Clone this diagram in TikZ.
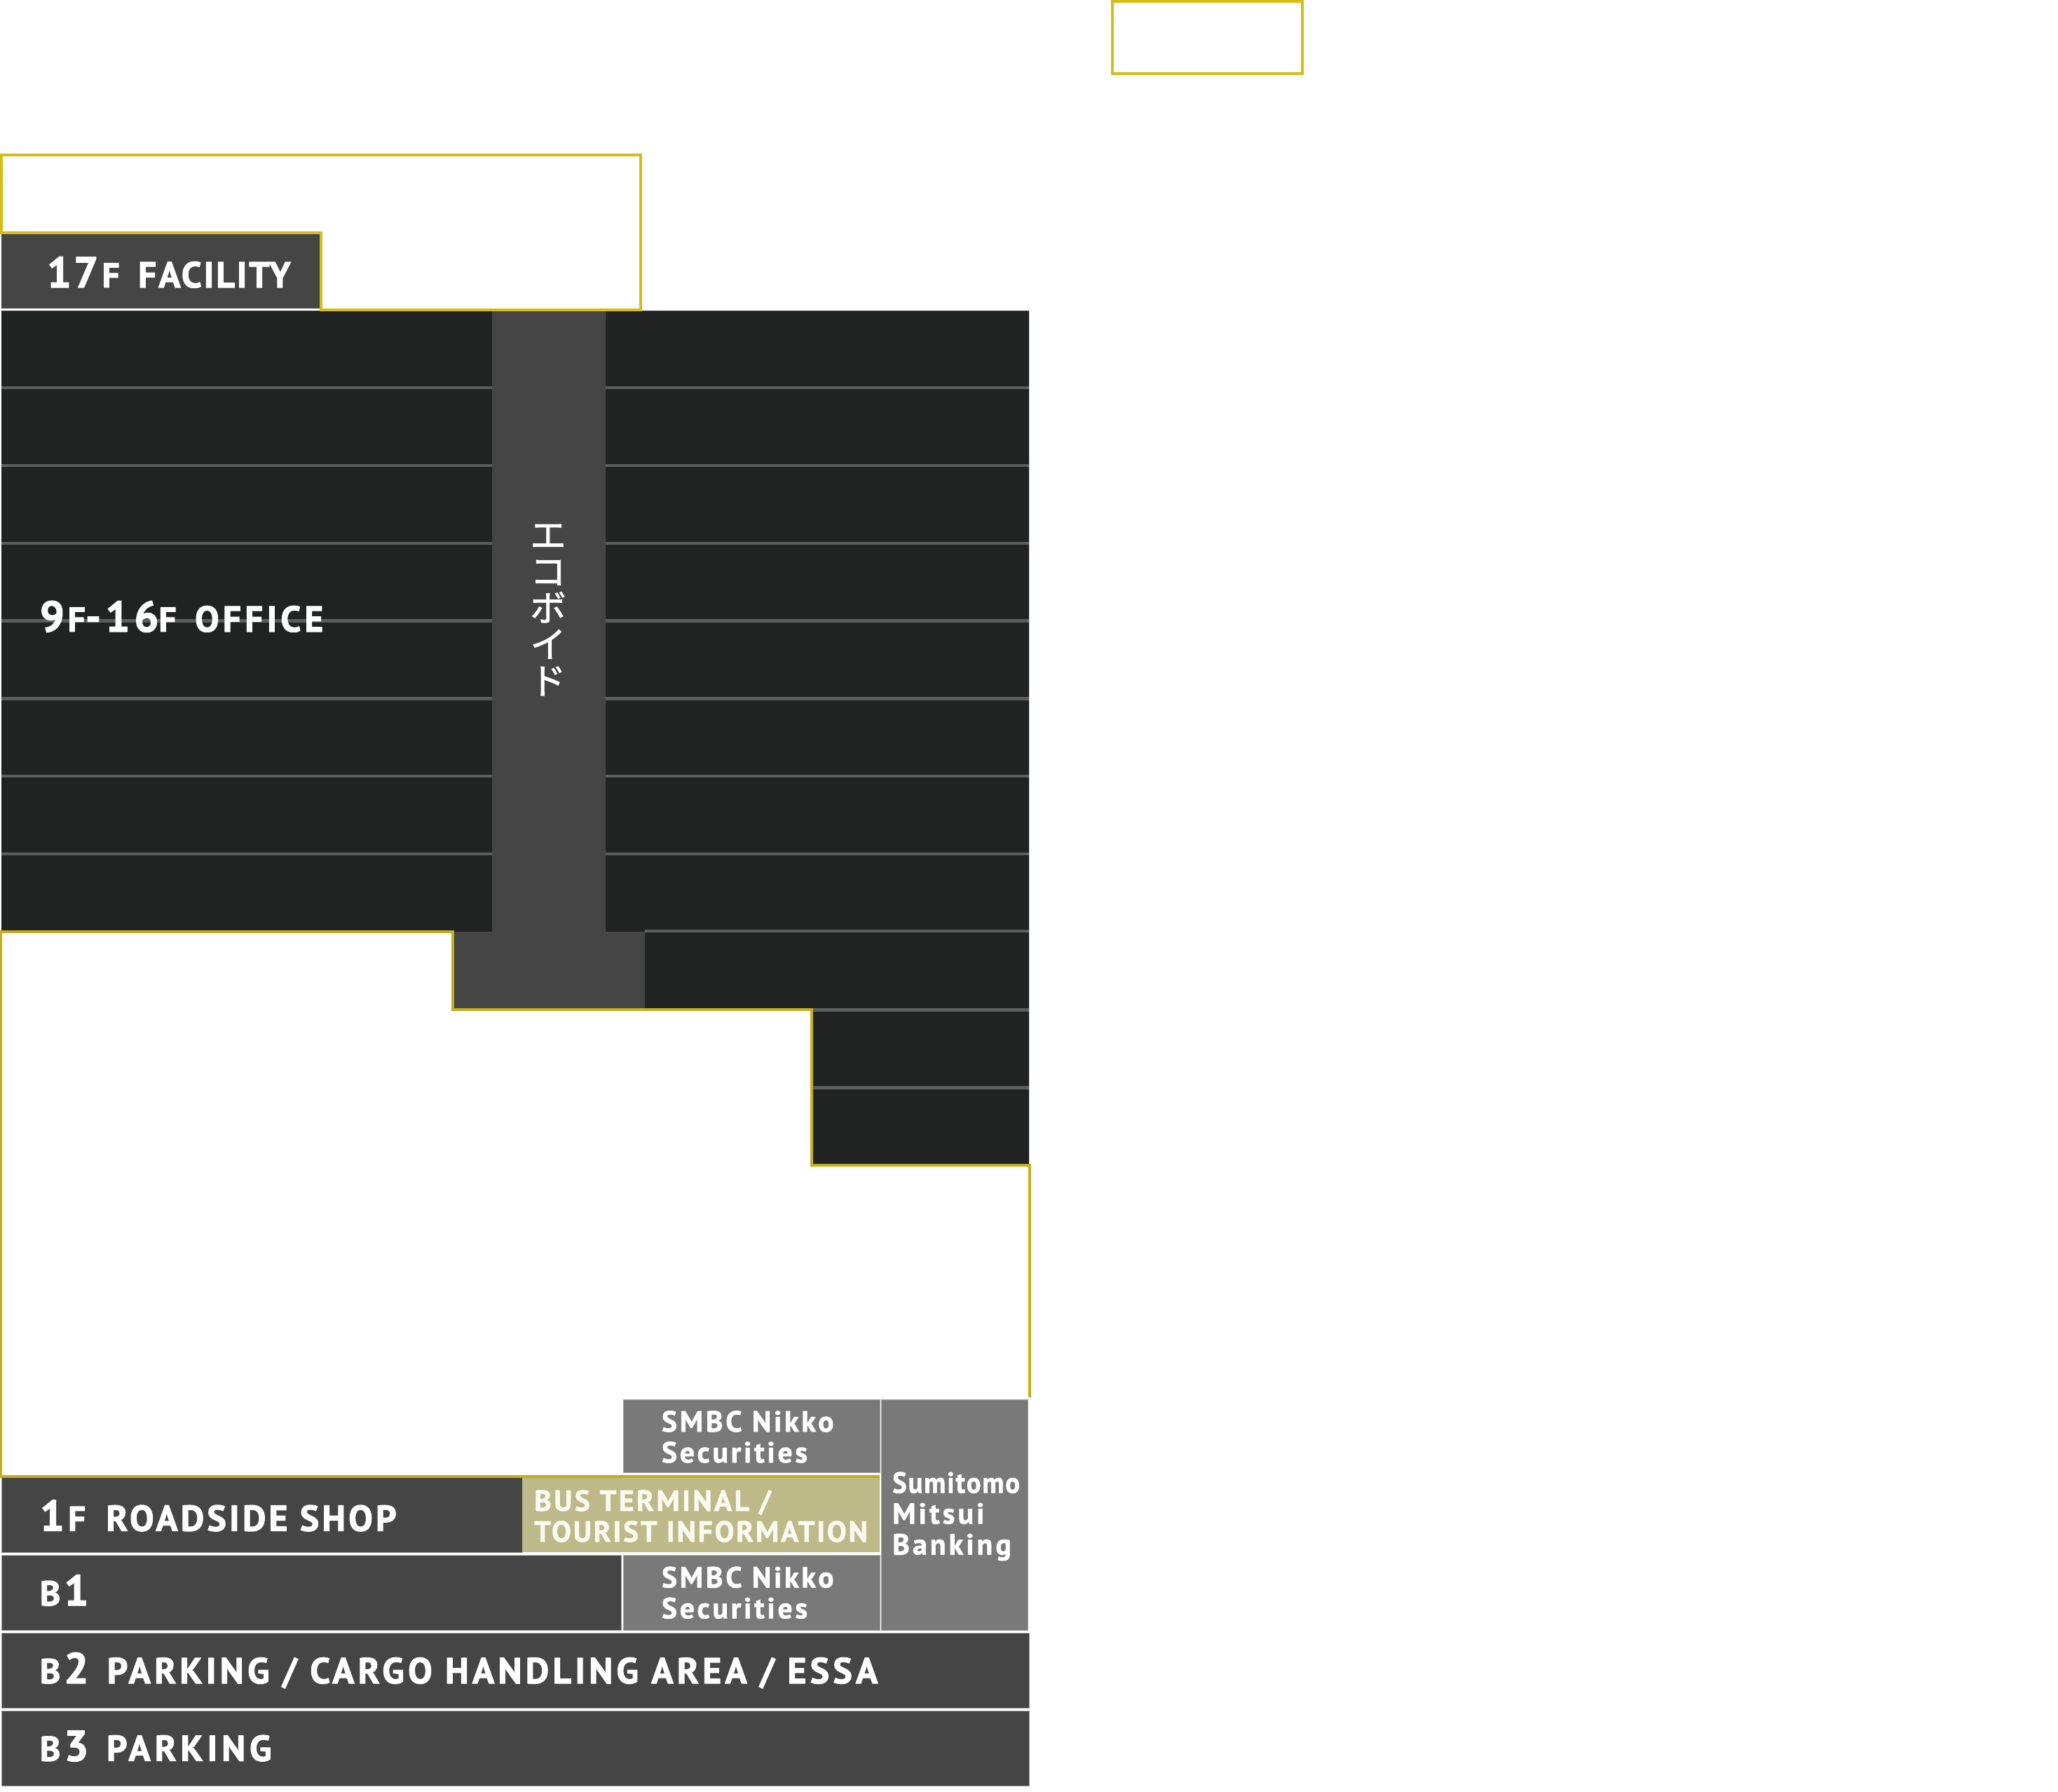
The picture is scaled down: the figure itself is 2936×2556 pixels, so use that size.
\documentclass[tikz,border=0pt]{standalone}
\usepackage{fontspec}
\newfontfamily\din{PT Sans}[LetterSpace=8.2,BoldFeatures={FakeBold=2}]
\newfontfamily\dinfac{PT Sans}[LetterSpace=5.7,BoldFeatures={FakeBold=2}]
\newfontfamily\dinoff{PT Sans}[LetterSpace=10.0,BoldFeatures={FakeBold=2}]
\newfontfamily\dinlong{PT Sans}[LetterSpace=10.3,BoldFeatures={FakeBold=2}]
\newfontfamily\dinwide{PT Sans}[LetterSpace=11.5,BoldFeatures={FakeBold=2}]
\newfontfamily\dinsmall{PT Sans}[LetterSpace=9.2,BoldFeatures={FakeBold=1.6}]
\newfontfamily\dinbus{PT Sans}[LetterSpace=6.7,BoldFeatures={FakeBold=1.6}]
\newfontfamily\dinbusa{PT Sans}[LetterSpace=8.2,BoldFeatures={FakeBold=1.6}]
\newfontfamily\dinbank{PT Sans}[LetterSpace=10.0,BoldFeatures={FakeBold=1.6}]
\newfontfamily\dinbanka{PT Sans}[LetterSpace=5.0,FakeStretch=0.92,BoldFeatures={FakeBold=1.6}]
\newfontfamily\cjk{Noto Sans CJK JP}[FakeBold=1.5]
\definecolor{yelA}{HTML}{D5BC19}
\definecolor{yelB}{HTML}{C4AD1E}
\definecolor{darkfl}{HTML}{212322}
\definecolor{midfl}{HTML}{454545}
\definecolor{greyfl}{HTML}{797979}
\definecolor{busfl}{HTML}{BDB988}
\definecolor{floorln}{HTML}{5C5E5D}
\definecolor{edgeln}{HTML}{A0A0A0}
\definecolor{busink}{HTML}{FBFAF0}
\newcommand{\numsz}[1]{{\fontsize{15.4}{16}\selectfont #1}}
\newcommand{\unitsz}[1]{{\fontsize{12.4}{13}\selectfont #1}}
\tikzset{
  x=0.25pt,y=-0.25pt,
  yelA line/.style={draw=yelA,line width=1pt,line join=miter},
  yelB line/.style={draw=yelB,line width=0.95pt,line join=miter},
  floor line/.style={draw=floorln,line width=1.1pt},
  edged/.style={draw=edgeln,line width=0.2pt},
  big label/.style={anchor=base west,inner sep=0pt,outer sep=0pt,text=white,font=\din\bfseries\fontsize{12.9}{14}\selectfont},
  small label/.style={big label,align=left,font=\dinsmall\bfseries\fontsize{10.4}{11}\selectfont},
}
\begin{document}
\begin{tikzpicture}
\useasboundingbox (0,0) rectangle (2936,2556);
\fill[white] (0,0) rectangle (2936,2556);
% office floors
\fill[darkfl] (2,444) rectangle (702,1329);
\fill[darkfl] (864,444) -- (1468,444) -- (1468,1662) -- (1158,1662) -- (1158,1440) -- (920,1440) -- (920,1329) -- (864,1329) -- cycle;
\fill[midfl] (702,444) -- (864,444) -- (864,1329) -- (920,1329) -- (920,1440) -- (646,1440) -- (646,1329) -- (702,1329) -- cycle;
\foreach \yy in {553.3,664.1,774.9,885.7,996.5,1107.3,1218.1}{
  \draw[floor line] (2,\yy) -- (702,\yy);
  \draw[floor line] (864,\yy) -- (1468,\yy);
}
\draw[floor line] (920,1328) -- (1468,1328);
\draw[floor line] (1158,1440.3) -- (1468,1440.3);
\draw[floor line] (1158,1551.3) -- (1468,1551.3);
\draw[draw=midfl,line width=0.3pt] (2,443.5) -- (1468,443.5);
% facility
\fill[midfl] (2,333) rectangle (457,440);
\draw[yelA line] (1587,1.6) rectangle (1857.5,105.5);
\draw[yelA line] (458,442) -- (914,442) -- (914,220.7) -- (1.5,220.7) -- (1.5,331.7) -- (458,331.7) -- cycle;
% lower floors
\fill[greyfl,edged] (889.3,1996.7) rectangle (1255,2100.7);
\fill[greyfl,edged] (1257.7,1996.7) rectangle (1466.7,2325.7);
\fill[midfl,edged] (2,2107.7) rectangle (745,2214.3);
\fill[busfl] (745,2107.7) rectangle (1255,2214.3);
\fill[midfl,edged] (2,2218.3) rectangle (886,2325.7);
\fill[greyfl,edged] (889.3,2218.3) rectangle (1255,2325.7);
\fill[midfl,edged] (2,2329.3) rectangle (1468.7,2436);
\fill[midfl,edged] (2,2440.3) rectangle (1468.7,2547.3);
\draw[yelB line] (1469,1993) -- (1469,1662) -- (1158,1662) -- (1158,1440) -- (646,1440) -- (646,1329) -- (1.6,1329) -- (1.6,2105.7) -- (1255,2105.7);
% labels
\node[big label,font=\dinfac\bfseries\fontsize{12.9}{14}\selectfont] (facility) at (67,410) {\numsz{17}\hspace{1.3pt}\unitsz{F}\hspace{6.6pt}FACILITY};
\node[big label,font=\dinoff\bfseries\fontsize{12.9}{14}\selectfont] (office) at (57,901) {\numsz{9}\hspace{1.2pt}\unitsz{F}\numsz{-}\hspace{1.6pt}\numsz{16}\unitsz{F}\hspace{6.6pt}OFFICE};
\node[big label] (shop) at (57,2183.6) {\numsz{1}\hspace{1.3pt}\unitsz{F}\hspace{7.3pt}ROADSIDE SHOP};
\node[big label] (bone) at (57,2290) {\unitsz{B}\hspace{1.3pt}\numsz{1}};
\node[big label,font=\dinlong\bfseries\fontsize{12.9}{14}\selectfont] (btwo) at (57,2401) {\unitsz{B}\hspace{1.3pt}\numsz{2}\hspace{6.6pt}PARKING / CARGO HANDLING AREA / ESSA};
\node[big label,font=\dinwide\bfseries\fontsize{12.9}{14}\selectfont] (bthree) at (57,2511.7) {\unitsz{B}\hspace{1.3pt}\numsz{3}\hspace{6.4pt}PARKING};
\node[small label] (smbcup) at (944,2086) {SMBC Nikko\\Securities};
\node[small label] (smbclow) at (944,2308.3) {SMBC Nikko\\Securities};
\node[small label,font=\dinbank\bfseries\fontsize{10.4}{11}\selectfont] (bank) at (1273.3,2217.3) {{\dinbanka Sumitomo}\\Mitsui\\Banking};
\node[small label,text=busink,font=\dinbus\bfseries\fontsize{10.4}{11}\selectfont] (bus) at (762.3,2199) {{\dinbusa BUS TERMINAL /}\\TOURIST INFORMATION};
\node[inner sep=0pt,text=white,align=center,font=\cjk\fontsize{12.8}{13}\selectfont] (void) at (782,870) {エ\\コ\\ボ\\イ\\ド};
\end{tikzpicture}
\end{document}
